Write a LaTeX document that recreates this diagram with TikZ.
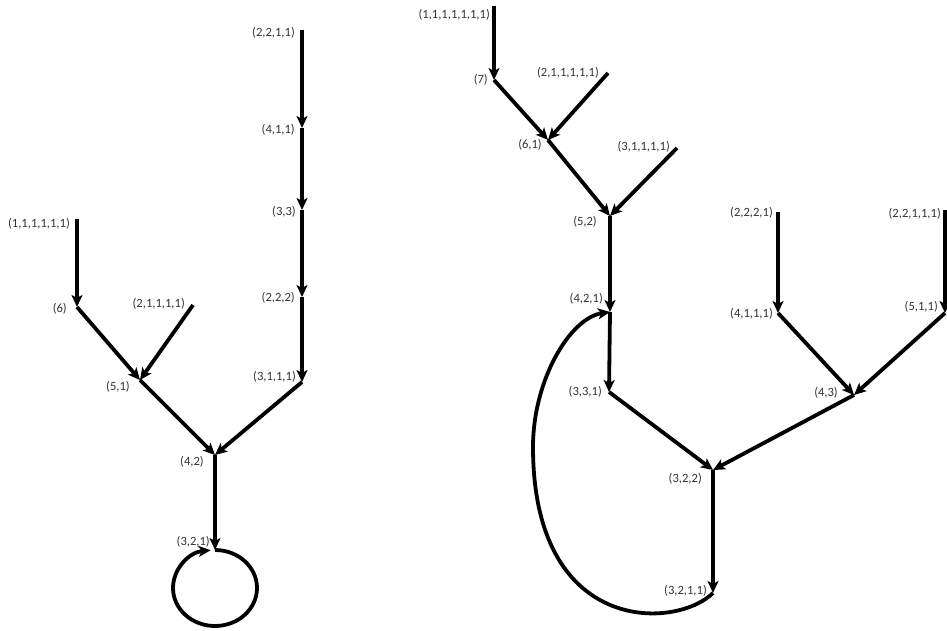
\documentclass[tikz,border=0pt]{standalone}
\usepackage{fontspec}
\setmainfont{Carlito}
\usetikzlibrary{arrows.meta}
\definecolor{lblcol}{HTML}{333333}
\begin{document}
\begin{tikzpicture}[x=1pt,y=-1pt,
  edge/.style={line width=3.8pt,line join=round,-{Stealth[length=12pt,width=11pt,inset=3pt]}},
  lbl/.style={anchor=east,inner sep=0pt,text=lblcol,font=\fontsize{12.6}{14}\selectfont}]
\useasboundingbox (0,0) rectangle (947,631);
% ---------- left diagram: points ----------
\coordinate (a1) at (77,219);
\coordinate (n6) at (77,307);
\coordinate (a2) at (193,305);
\coordinate (n51) at (140,380);
\coordinate (n42) at (215,455);
\coordinate (b1) at (302,30);
\coordinate (b2) at (302,128);
\coordinate (b3) at (302,210);
\coordinate (b4) at (302,297);
\coordinate (b5) at (302,382);
\coordinate (n321) at (215,550);
% labels
\node[lbl] (la1) at (70,224) {(1,1,1,1,1,1)};
\node[lbl] (ln6) at (67,309) {(6)};
\node[lbl] (la2) at (185,304) {(2,1,1,1,1)};
\node[lbl] (ln51) at (130,387) {(5,1)};
\node[lbl] (ln42) at (204,462) {(4,2)};
\node[lbl] (ln321) at (210,542) {(3,2,1)};
\node[lbl] (lb1) at (295,33) {(2,2,1,1)};
\node[lbl] (lb2) at (295,130) {(4,1,1)};
\node[lbl] (lb3) at (296,212) {(3,3)};
\node[lbl] (lb4) at (295,298) {(2,2,2)};
\node[lbl] (lb5) at (296,377) {(3,1,1,1)};
% edges
\draw[edge] (a1) -- (n6);
\draw[edge] (n6) -- (n51);
\draw[edge] (a2) -- (n51);
\draw[edge] (n51) -- (n42);
\draw[edge] (b1) -- (b2);
\draw[edge] (b2) -- (b3);
\draw[edge] (b3) -- (b4);
\draw[edge] (b4) -- (b5);
\draw[edge] (b5) -- (n42);
\draw[edge] (n42) -- (n321);
\draw[edge] (n321) arc[start angle=270,end angle=624,x radius=42,y radius=38];
% ---------- right diagram: points ----------
\coordinate (r1) at (494,6);
\coordinate (n7) at (494,80);
\coordinate (r2) at (608,73);
\coordinate (n61) at (548,140);
\coordinate (r3) at (677,148);
\coordinate (n52) at (610,216);
\coordinate (n421) at (610,312);
\coordinate (n331) at (609,392);
\coordinate (n322) at (713,470);
\coordinate (n3211) at (713,593);
\coordinate (s1) at (778,212);
\coordinate (n4111) at (778,313);
\coordinate (s2) at (945,210);
\coordinate (n511) at (945,313);
\coordinate (n43) at (854,395);
% labels
\node[lbl] (lr1) at (490,15) {(1,1,1,1,1,1,1)};
\node[lbl] (ln7) at (488,80) {(7)};
\node[lbl] (lr2) at (599,73) {(2,1,1,1,1,1)};
\node[lbl] (ln61) at (542,145) {(6,1)};
\node[lbl] (lr3) at (670,147) {(3,1,1,1,1)};
\node[lbl] (ln52) at (597,222) {(5,2)};
\node[lbl] (ln421) at (603,299) {(4,2,1)};
\node[lbl] (ln331) at (602,392) {(3,3,1)};
\node[lbl] (ln322) at (702,479) {(3,2,2)};
\node[lbl] (ln3211) at (707,591) {(3,2,1,1)};
\node[lbl] (ls1) at (773,213) {(2,2,2,1)};
\node[lbl] (ln4111) at (773,314) {(4,1,1,1)};
\node[lbl] (ls2) at (941,214) {(2,2,1,1,1)};
\node[lbl] (ln511) at (938,307) {(5,1,1)};
\node[lbl] (ln43) at (838,393) {(4,3)};
% edges
\draw[edge] (r1) -- (n7);
\draw[edge] (n7) -- (n61);
\draw[edge] (r2) -- (n61);
\draw[edge] (n61) -- (n52);
\draw[edge] (r3) -- (n52);
\draw[edge] (n52) -- (n421);
\draw[edge] (n421) -- (n331);
\draw[edge] (n331) -- (n322);
\draw[edge] (n322) -- (n3211);
\draw[edge] (s1) -- (n4111);
\draw[edge] (n4111) -- (n43);
\draw[edge] (s2) -- (n511);
\draw[edge] (n511) -- (n43);
\draw[edge] (n43) -- (n322);
\draw[edge] (n3211) .. controls (675,630) and (533,635) .. (533,447)
  .. controls (533,380) and (570,318) .. (n421);
\end{tikzpicture}
\end{document}
